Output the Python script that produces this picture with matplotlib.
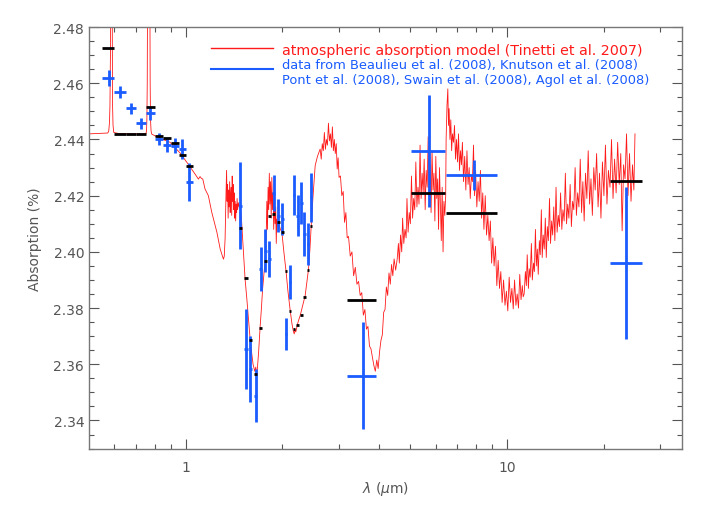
"""
Transmission spectrum of HD 189733b: model vs. published data points.
Values read off the reference figure.
"""

import matplotlib
matplotlib.use("Agg")
import matplotlib.pyplot as plt
from matplotlib.ticker import FixedLocator, NullFormatter

RED = "#ff1a1a"
BLUE = "#1a5cff"
GRAY = "#555555"

# ---------------- model spectrum (Tinetti et al. 2007) ----------------
# optical part, with Na and K lines
wl_opt = [0.50, 0.55, 0.572, 0.576, 0.579, 0.581, 0.583, 0.584, 0.586, 0.588,
          0.590, 0.591, 0.592, 0.594, 0.597, 0.62, 0.68, 0.74, 0.752, 0.755,
          0.757, 0.759, 0.761, 0.763, 0.771, 0.773, 0.775, 0.777, 0.780, 0.784,
          0.832, 0.894, 0.960, 1.012, 1.069, 1.095, 1.108, 1.118, 1.130, 1.148,
          1.176, 1.205, 1.25, 1.28, 1.31]
ab_opt = [2.4420, 2.4422, 2.4423, 2.4430, 2.4460, 2.4520, 2.4700, 2.5000, 2.6000, 2.6000,
          2.5000, 2.4700, 2.4520, 2.4450, 2.4425, 2.4421, 2.4420, 2.4420, 2.4421, 2.4430,
          2.4470, 2.4600, 2.5000, 2.6000, 2.6000, 2.5000, 2.4600, 2.4470, 2.4430, 2.4419,
          2.4404, 2.4390, 2.4352, 2.4316, 2.4277, 2.4259, 2.4268, 2.4262, 2.4259, 2.4224,
          2.4200, 2.4141, 2.4070, 2.4010, 2.3974]

# near infrared, 1.3 - 2.6 micron
wl_nir = [1.318, 1.326, 1.334, 1.340, 1.345, 1.350, 1.355, 1.360, 1.365, 1.370,
          1.375, 1.380, 1.385, 1.390, 1.395, 1.400, 1.405, 1.410, 1.415, 1.420,
          1.425, 1.430, 1.435, 1.440, 1.445, 1.450, 1.458, 1.466, 1.476, 1.49,
          1.51, 1.53, 1.55, 1.57, 1.586, 1.60, 1.62, 1.64, 1.652, 1.664,
          1.675, 1.685, 1.704, 1.72, 1.735, 1.75, 1.766, 1.778, 1.788, 1.796,
          1.804, 1.812, 1.820, 1.828, 1.836, 1.845, 1.853, 1.862, 1.870, 1.878,
          1.887, 1.896, 1.905, 1.913, 1.920, 1.935, 1.950, 1.970, 1.991, 2.02,
          2.053, 2.08, 2.114, 2.14, 2.160, 2.175, 2.19, 2.20, 2.23, 2.25,
          2.27, 2.30, 2.33, 2.353, 2.38, 2.41, 2.435, 2.457, 2.49, 2.528,
          2.57, 2.62]
ab_nir = [2.3985, 2.4050, 2.4200, 2.4290, 2.4180, 2.4240, 2.4120, 2.4220, 2.4160, 2.4250,
          2.4140, 2.4200, 2.4230, 2.4130, 2.4270, 2.4180, 2.4240, 2.4150, 2.4210, 2.4120,
          2.4180, 2.4110, 2.4170, 2.4140, 2.4190, 2.4150, 2.4175, 2.4160, 2.4164, 2.4120,
          2.4010, 2.3903, 2.3830, 2.3750, 2.3690, 2.3650, 2.3600, 2.3575, 2.3590, 2.3559,
          2.3600, 2.3640, 2.3733, 2.3800, 2.3870, 2.3920, 2.3969, 2.4030, 2.4180, 2.4080,
          2.4230, 2.4150, 2.4280, 2.4170, 2.4250, 2.4120, 2.4265, 2.4150, 2.4210, 2.4080,
          2.4190, 2.4100, 2.4160, 2.4030, 2.4117, 2.4090, 2.4100, 2.4080, 2.4071, 2.4000,
          2.3928, 2.3860, 2.3791, 2.3745, 2.3720, 2.3708, 2.3725, 2.3715, 2.3745, 2.3760,
          2.3773, 2.3800, 2.3825, 2.3844, 2.3890, 2.3939, 2.4010, 2.4093, 2.4200, 2.4307,
          2.4340, 2.4366]

# 2.6 - 4.5 micron (H2O peak and the dip near 4 micron)
wl_mid = [2.64, 2.66, 2.68, 2.70, 2.72, 2.74, 2.76, 2.78, 2.80, 2.82,
          2.84, 2.86, 2.88, 2.90, 2.92, 2.94, 2.96, 2.98, 3.00, 3.03,
          3.06, 3.09, 3.12, 3.15, 3.18, 3.21, 3.25, 3.29, 3.33, 3.37,
          3.41, 3.45, 3.49, 3.53, 3.57, 3.61, 3.65, 3.69, 3.73, 3.77,
          3.81, 3.85, 3.89, 3.93, 3.97, 4.01, 4.05, 4.09, 4.13, 4.17,
          4.21, 4.25, 4.29, 4.33, 4.37, 4.41, 4.45, 4.50]
ab_mid = [2.4330, 2.4385, 2.4360, 2.4425, 2.4365, 2.4400, 2.4380, 2.4458, 2.4395, 2.4420,
          2.4372, 2.4445, 2.4360, 2.4400, 2.4350, 2.4385, 2.4295, 2.4335, 2.4265, 2.4270,
          2.4200, 2.4215, 2.4105, 2.4140, 2.4050, 2.4055, 2.3985, 2.4000, 2.3915, 2.3945,
          2.3885, 2.3895, 2.3845, 2.3855, 2.3775, 2.3795, 2.3725, 2.3735, 2.3665, 2.3655,
          2.3625, 2.3595, 2.3575, 2.3615, 2.3585, 2.3645, 2.3685, 2.3705, 2.3785, 2.3795,
          2.3875, 2.3845, 2.3925, 2.3885, 2.3955, 2.3915, 2.3975, 2.3935]

# 4.5 - 11.3 micron
wl_far = [4.55, 4.59, 4.62, 4.66, 4.70, 4.73, 4.77, 4.81, 4.85, 4.88,
          4.92, 4.96, 5.00, 5.04, 5.08, 5.12, 5.16, 5.20, 5.24, 5.28,
          5.32, 5.36, 5.40, 5.44, 5.48, 5.52, 5.56, 5.60, 5.64, 5.68,
          5.72, 5.76, 5.80, 5.84, 5.88, 5.92, 5.96, 6.00, 6.04, 6.08,
          6.12, 6.16, 6.20, 6.24, 6.28, 6.32, 6.36, 6.40, 6.44, 6.46,
          6.50, 6.54, 6.57, 6.60, 6.64, 6.68, 6.72, 6.76, 6.81, 6.86,
          6.91, 6.96, 7.01, 7.06, 7.11, 7.16, 7.21, 7.26, 7.32, 7.38,
          7.44, 7.50, 7.56, 7.62, 7.68, 7.74, 7.80, 7.86, 7.92, 7.98,
          8.05, 8.12, 8.19, 8.26, 8.33, 8.40, 8.47, 8.55, 8.63, 8.71,
          8.79, 8.87, 8.95, 9.03, 9.11, 9.20, 9.29, 9.38, 9.47, 9.56,
          9.65, 9.75, 9.85, 9.95, 10.05, 10.15, 10.25, 10.35, 10.45, 10.55,
          10.65, 10.75, 10.85, 10.95, 11.05, 11.15, 11.22]
ab_far = [2.3975, 2.4030, 2.3960, 2.4060, 2.4000, 2.4120, 2.4030, 2.4080, 2.4050, 2.4190,
          2.4070, 2.4140, 2.4100, 2.4270, 2.4120, 2.4190, 2.4150, 2.4320, 2.4160, 2.4230,
          2.4170, 2.4380, 2.4190, 2.4280, 2.4210, 2.4330, 2.4150, 2.4290, 2.4230, 2.4410,
          2.4200, 2.4310, 2.4140, 2.4360, 2.4220, 2.4280, 2.4110, 2.4340, 2.4190, 2.4260,
          2.4080, 2.4300, 2.4170, 2.4040, 2.4230, 2.4000, 2.4180, 2.4130, 2.4200, 2.4400,
          2.4520, 2.4580, 2.4450, 2.4510, 2.4400, 2.4470, 2.4360, 2.4420, 2.4390, 2.4450,
          2.4330, 2.4400, 2.4320, 2.4420, 2.4290, 2.4360, 2.4310, 2.4390, 2.4250, 2.4340,
          2.4220, 2.4360, 2.4240, 2.4300, 2.4190, 2.4270, 2.4250, 2.4380, 2.4200, 2.4290,
          2.4160, 2.4250, 2.4180, 2.4290, 2.4120, 2.4210, 2.4080, 2.4200, 2.4060, 2.4130,
          2.4040, 2.4110, 2.3960, 2.4050, 2.3950, 2.4020, 2.3880, 2.3970, 2.3870, 2.3930,
          2.3820, 2.3900, 2.3810, 2.3860, 2.3790, 2.3910, 2.3820, 2.3870, 2.3797, 2.3900,
          2.3810, 2.3850, 2.3800, 2.3920, 2.3830, 2.3880, 2.3840]

# 11.3 - 25 micron
wl_ir = [11.30, 11.40, 11.48, 11.55, 11.65, 11.72, 11.80, 11.90, 11.98, 12.08,
         12.16, 12.25, 12.33, 12.42, 12.50, 12.60, 12.68, 12.78, 12.86, 12.95,
         13.05, 13.15, 13.24, 13.34, 13.44, 13.55, 13.65, 13.76, 13.86, 13.97,
         14.08, 14.20, 14.31, 14.43, 14.55, 14.67, 14.80, 14.92, 15.05, 15.18,
         15.31, 15.44, 15.57, 15.71, 15.85, 15.99, 16.13, 16.28, 16.43, 16.58,
         16.73, 16.89, 17.05, 17.21, 17.37, 17.54, 17.71, 17.88, 18.06, 18.24,
         18.42, 18.61, 18.80, 18.99, 19.19, 19.39, 19.59, 19.80, 20.01, 20.23,
         20.45, 20.67, 20.90, 21.13, 21.36, 21.60, 21.84, 22.08, 22.33, 22.58,
         22.80, 23.04, 23.28, 23.53, 23.78, 24.04, 24.30, 24.56, 24.80, 25.00]
ab_ir = [2.3850, 2.3930, 2.3880, 2.3990, 2.3870, 2.3940, 2.3910, 2.4030, 2.3900, 2.3960,
         2.3930, 2.4080, 2.3950, 2.4010, 2.3920, 2.4040, 2.3990, 2.4150, 2.3980, 2.4060,
         2.4010, 2.4120, 2.3980, 2.4090, 2.4040, 2.4190, 2.4030, 2.4110, 2.4060, 2.4160,
         2.4040, 2.4230, 2.4070, 2.4130, 2.4090, 2.4210, 2.4080, 2.4150, 2.4110, 2.4280,
         2.4100, 2.4170, 2.4120, 2.4240, 2.4090, 2.4180, 2.4150, 2.4300, 2.4130, 2.4210,
         2.4160, 2.4330, 2.4140, 2.4250, 2.4110, 2.4280, 2.4190, 2.4360, 2.4170, 2.4260,
         2.4130, 2.4300, 2.4220, 2.4350, 2.4160, 2.4280, 2.4120, 2.4320, 2.4200, 2.4380,
         2.4170, 2.4290, 2.4230, 2.4400, 2.4190, 2.4330, 2.4210, 2.4390, 2.4240, 2.4350,
         2.4075, 2.4310, 2.4260, 2.4420, 2.4200, 2.4350, 2.4180, 2.4310, 2.4220, 2.4420]

model_wl = wl_opt + wl_nir + wl_mid + wl_far + wl_ir
model_ab = ab_opt + ab_nir + ab_mid + ab_far + ab_ir

# ---------------- HST/ACS points (Pont et al. 2008) ----------------
pont_lo = [0.55, 0.60, 0.65, 0.70, 0.75, 0.80, 0.85, 0.90, 0.95, 1.00]
pont_hi = [0.60, 0.65, 0.70, 0.75, 0.80, 0.85, 0.90, 0.95, 1.00, 1.05]
pont_y = [2.4619, 2.4568, 2.4511, 2.4458, 2.4493, 2.4402, 2.4381, 2.4378, 2.4366, 2.4248]
pont_err = [0.0030, 0.0021, 0.0019, 0.0019, 0.0024, 0.0020, 0.0024, 0.0027, 0.0037, 0.0068]
pont_model = [2.4726, 2.4421, 2.4421, 2.4421, 2.4516, 2.4412, 2.4406, 2.4388, 2.4346, 2.4305]

# ---------------- HST/NICMOS points (Swain et al. 2008) ----------------
nic_wl = [1.48, 1.54, 1.59, 1.65, 1.71, 1.77, 1.82, 1.88, 1.94,
          2.00, 2.05, 2.11, 2.17, 2.23, 2.29, 2.34, 2.40, 2.46]
nic_y = [2.4164, 2.3654, 2.3583, 2.3488, 2.3939, 2.4004, 2.3975, 2.4209, 2.4129,
         2.4117, 2.3708, 2.3892, 2.4202, 2.4129, 2.4174, 2.4064, 2.4028, 2.4194]
nic_err = [0.0155, 0.0143, 0.0119, 0.0095, 0.0077, 0.0077, 0.0064, 0.0065, 0.0060,
           0.0058, 0.0056, 0.0060, 0.0071, 0.0074, 0.0074, 0.0077, 0.0074, 0.0086]
nic_model = [2.4084, 2.3907, 2.3688, 2.3565, 2.3729, 2.3968, 2.4129, 2.4135, 2.4107,
             2.4072, 2.3933, 2.3791, 2.3726, 2.3740, 2.3777, 2.3841, 2.3937, 2.4091]
nic_halfbin = 0.02

# ---------------- Spitzer points (Beaulieu, Knutson, Agol 2008) ----------------
spz_wl = [3.55, 5.70, 7.87, 23.4]
spz_lo = [3.18, 5.02, 6.46, 20.9]
spz_hi = [3.92, 6.43, 9.31, 26.2]
spz_y = [2.3559, 2.4360, 2.4274, 2.3961]
spz_err = [0.019, 0.020, 0.0052, 0.027]
spz_model = [2.3829, 2.4210, 2.4138, 2.4251]

fig = plt.figure(figsize=(7.08, 5.06), dpi=100)
ax = fig.add_axes([0.1257, 0.1115, 0.8375, 0.8330])

ax.plot(model_wl, model_ab, color=RED, lw=0.6, zorder=1)

# blue crosses
pont_c = [(a + b) / 2 for a, b in zip(pont_lo, pont_hi)]
ax.errorbar(pont_c, pont_y,
            xerr=[[c - a for c, a in zip(pont_c, pont_lo)],
                  [b - c for c, b in zip(pont_c, pont_hi)]],
            yerr=pont_err, fmt="none", ecolor=BLUE, elinewidth=2, capsize=0, zorder=2)
ax.errorbar(nic_wl, nic_y, xerr=nic_halfbin, yerr=nic_err, fmt="none",
            ecolor=BLUE, elinewidth=2, capsize=0, zorder=2)
ax.errorbar(spz_wl, spz_y,
            xerr=[[c - a for c, a in zip(spz_wl, spz_lo)],
                  [b - c for c, b in zip(spz_wl, spz_hi)]],
            yerr=spz_err, fmt="none", ecolor=BLUE, elinewidth=2, capsize=0, zorder=2)

# binned model (black bars)
ax.hlines(pont_model, pont_lo, pont_hi, colors="black", lw=2, zorder=3)
ax.hlines(nic_model, [w - nic_halfbin for w in nic_wl], [w + nic_halfbin for w in nic_wl],
          colors="black", lw=2, zorder=3)
ax.hlines(spz_model, spz_lo, spz_hi, colors="black", lw=2, zorder=3)

ax.set_xscale("log")
ax.set_xlim(0.5, 35)
ax.set_ylim(2.33, 2.48)

ax.xaxis.set_major_locator(FixedLocator([1, 10]))
ax.xaxis.set_minor_locator(FixedLocator([0.6, 0.7, 0.8, 0.9, 2, 3, 4, 5, 6, 7, 8, 9, 20, 30]))
ax.set_xticklabels(["1", "10"])
ax.xaxis.set_minor_formatter(NullFormatter())
ax.set_yticks([2.34, 2.36, 2.38, 2.40, 2.42, 2.44, 2.46, 2.48])
ax.set_yticklabels(["2.34", "2.36", "2.38", "2.40", "2.42", "2.44", "2.46", "2.48"])
ax.yaxis.set_minor_locator(FixedLocator([2.33 + 0.005 * i for i in range(31)]))

ax.tick_params(which="both", direction="in", top=True, right=True, colors=GRAY,
               labelcolor=GRAY, labelsize=10)
ax.tick_params(which="major", length=7.5, width=0.8)
ax.tick_params(which="minor", length=3.5, width=0.8)
ax.tick_params(axis="x", pad=8)
for s in ax.spines.values():
    s.set_color("#777777")
    s.set_linewidth(1)

ax.set_xlabel(r"$\lambda$ ($\mu$m)", color=GRAY, fontsize=10, labelpad=4)
ax.set_ylabel("Absorption (%)", color=GRAY, fontsize=10, labelpad=8)

# legend drawn by hand
ax.plot([0.206, 0.310], [0.9495, 0.9495], transform=ax.transAxes, color=RED, lw=1)
ax.plot([0.206, 0.310], [0.9006, 0.9006], transform=ax.transAxes, color=BLUE, lw=1.5)
ax.text(0.3255, 0.946, "atmospheric absorption model (Tinetti et al. 2007)",
        transform=ax.transAxes, color=RED, fontsize=10.3, va="center")
ax.text(0.3255, 0.911, "data from Beaulieu et al. (2008), Knutson et al. (2008)",
        transform=ax.transAxes, color=BLUE, fontsize=9.4, va="center")
ax.text(0.3255, 0.876, "Pont et al. (2008), Swain et al. (2008), Agol et al. (2008)",
        transform=ax.transAxes, color=BLUE, fontsize=9.4, va="center")

plt.savefig("out.png", dpi=100)
